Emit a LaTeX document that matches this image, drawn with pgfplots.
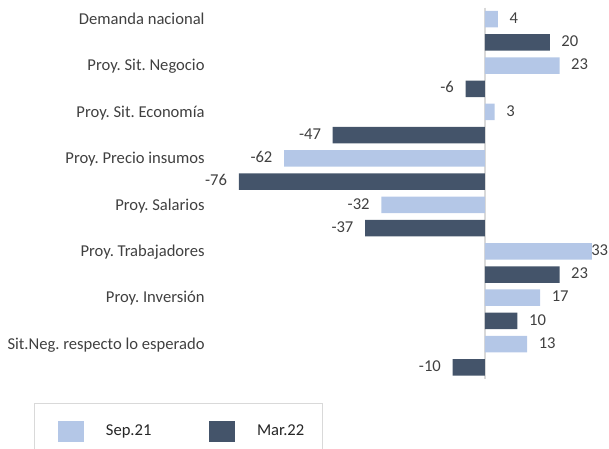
\documentclass[border=0pt]{standalone}
\usepackage{fontspec}
\setmainfont{Carlito}
\usepackage{pgfplots}
\pgfplotsset{compat=1.18}
\definecolor{sepc}{HTML}{B4C7E7}
\definecolor{marc}{HTML}{44546A}
\definecolor{txt}{HTML}{404040}
\definecolor{zline}{HTML}{D9D9D9}
\frenchspacing
\begin{document}
\begin{tikzpicture}[font=\fontsize{16.66}{20}\selectfont]
\begin{axis}[
  at={(225.8bp,70bp)}, anchor=south west,
  scale only axis, width=382.3bp, height=371.5bp,
  xmin=-80, xmax=38, ymin=-0.5, ymax=15.5, y dir=reverse,
  xbar, bar width=16.5bp, bar shift=0pt,
  axis line style={draw=none}, tick style={draw=none},
  xtick=\empty,
  ytick={0,2,4,6,8,10,12,14},
  yticklabels={Demanda nacional, Proy. Sit. Negocio, Proy. Sit. Economía, Proy. Precio insumos, Proy. Salarios, Proy. Trabajadores, Proy. Inversión, Sit.Neg. respecto lo esperado},
  yticklabel style={inner sep=0pt, xshift=-16.8bp, yshift=-2bp, text=txt, text height=0.644em, text depth=0pt},
  visualization depends on={x \as \rawx},
  nodes near coords={\pgfmathprintnumber[assume math mode=true]{\pgfplotspointmeta}},
  nodes near coords align=horizontal,
  every node near coord/.append style={text=txt, inner xsep={(\rawx>30 ? -0.8 : 11.55)}, inner ysep=0pt, yshift=-1bp, text height=0.64em, text depth=0pt},
  legend columns=2,
  legend style={at={(axis description cs:-0.5017,-0.0646)}, anchor=north west, draw=zline, line width=0.8bp, fill=white, inner xsep=18bp, inner ysep=18bp, text=black!85,
    /tikz/every odd column/.append style={column sep=22bp},
    /tikz/every even column/.append style={column sep=52bp},
    nodes={inner sep=0pt, text height=0.644em, text depth=0pt}},
  legend cell align=left,
  legend image code/.code={\path (0bp,0bp); \fill[#1] (5.5bp,-10.5bp) rectangle (31.5bp,10.5bp);},
]
\draw[zline, line width=1.3bp] (axis cs:0,-0.5) -- (axis cs:0,15.5);
\addplot[fill=sepc, draw=none] coordinates {(4,0) (23,2) (3,4) (-62,6) (-32,8) (33,10) (17,12) (13,14)};
\addlegendentry{Sep.21}
\addplot[fill=marc, draw=none] coordinates {(20,1) (-6,3) (-47,5) (-76,7) (-37,9) (23,11) (10,13) (-10,15)};
\addlegendentry{Mar.22}
\end{axis}
\pgfresetboundingbox
\path[use as bounding box] (0,0) rectangle (609bp,449bp);
\end{tikzpicture}
\end{document}
